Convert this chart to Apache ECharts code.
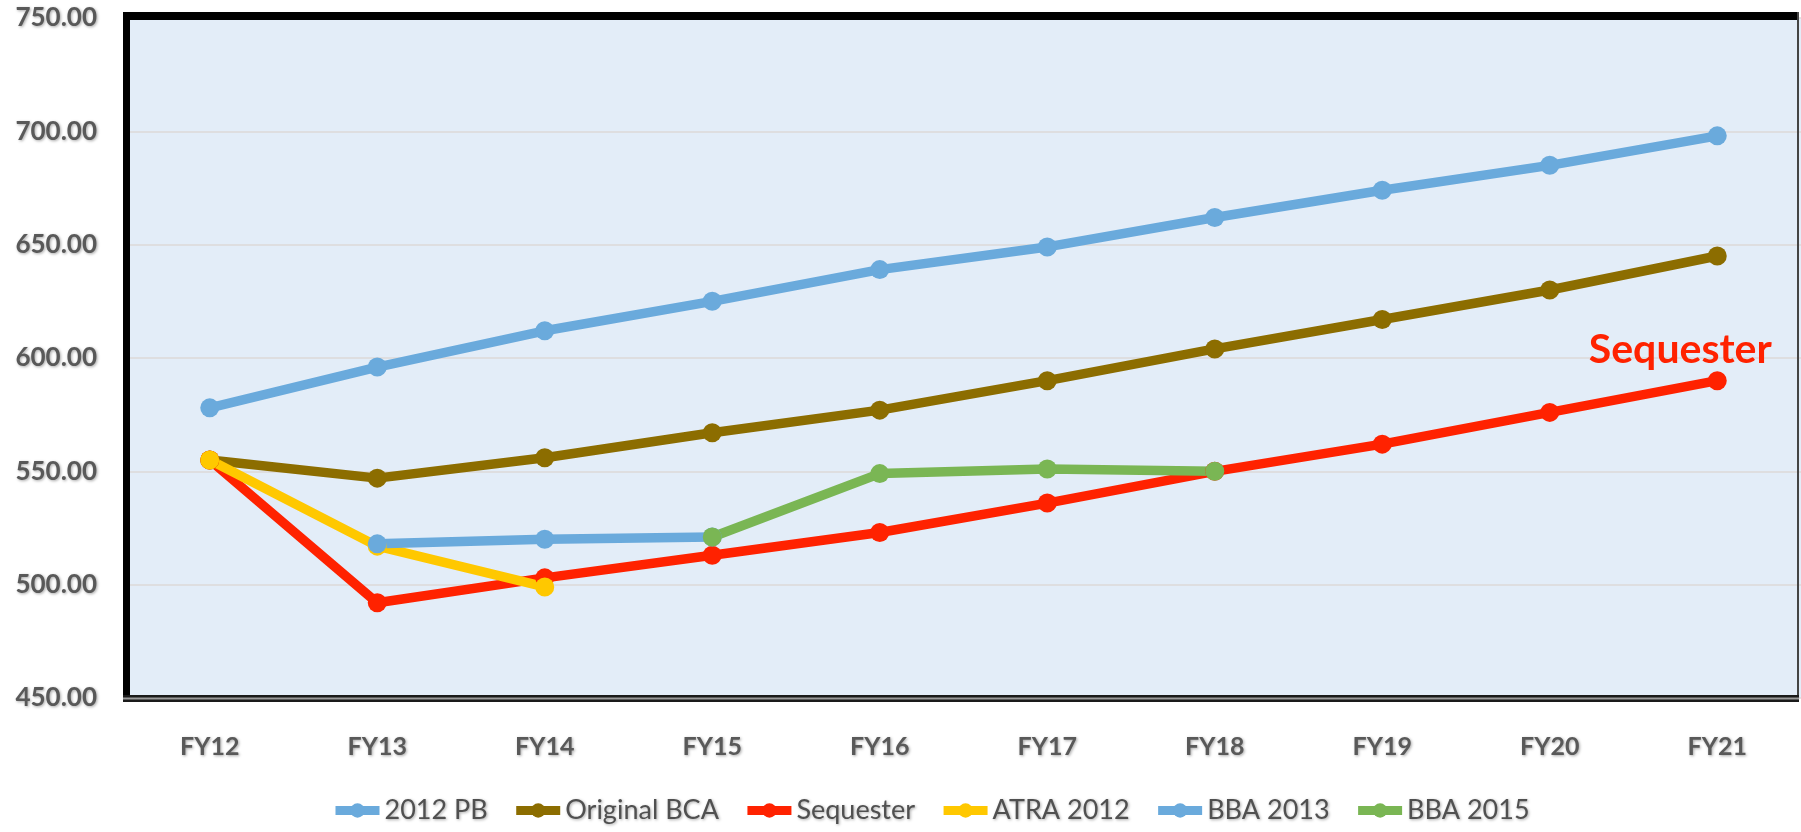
<!DOCTYPE html>
<html>
<head>
<meta charset="utf-8">
<script src="https://cdn.jsdelivr.net/npm/echarts@6/dist/echarts.min.js"></script>
<style>
  html, body { margin: 0; padding: 0; background: #fff; }
  #chart { width: 1801px; height: 832px; }
</style>
</head>
<body>
<div id="chart"></div>
<script>
// categories
var years = ["FY12", "FY13", "FY14", "FY15", "FY16", "FY17", "FY18", "FY19", "FY20", "FY21"];
// series values
var pb2012 = [578, 596, 612, 625, 639, 649, 662, 674, 685, 698];
var originalBca = [555, 547, 556, 567, 577, 590, 604, 617, 630, 645];
var sequester = [555, 492, 503, 513, 523, 536, 550, 562, 576, 590];
var atra2012 = [555, 517, 499, null, null, null, null, null, null, null];
var bba2013 = [null, 518, 520, 521, null, null, null, null, null, null];
var bba2015 = [null, null, null, 521, 549, 551, 550, null, null, null];
// y axis ticks
var yMin = 450, yMax = 750, yStep = 50;

var font = "Lato";
var gray = "#595959";

function lineSeries(name, data, color) {
  return {
    name: name,
    type: "line",
    data: data,
    symbol: "circle",
    symbolSize: 19,
    connectNulls: false,
    lineStyle: { color: color, width: 9.5 },
    itemStyle: { color: color },
    emphasis: { disabled: true }
  };
}

// last sequester point carries the red label
var seqData = sequester.map(function (v, i) {
  if (i < sequester.length - 1) return v;
  return {
    value: v,
    label: {
      show: true,
      formatter: "Sequester",
      position: "top",
      distance: 1,
      offset: [-37, 0],
      color: "#ff2200",
      fontFamily: font,
      fontWeight: "bold",
      fontSize: 41
    }
  };
});

var series = [
  lineSeries("2012 PB", pb2012, "#6aaadc"),
  lineSeries("Original BCA", originalBca, "#8c6d00"),
  lineSeries("Sequester", seqData, "#ff2200"),
  lineSeries("ATRA 2012", atra2012, "#ffc800"),
  lineSeries("BBA 2013", bba2013, "#6aaadc"),
  lineSeries("BBA 2015", bba2015, "#7ab654")
];

var shadow = {
  textShadowColor: "rgba(0,0,0,0.35)",
  textShadowBlur: 3,
  textShadowOffsetX: 1,
  textShadowOffsetY: 1
};

var chart = echarts.init(document.getElementById("chart"));
chart.setOption({
  animation: false,
  grid: {
    left: 126,
    top: 18,
    width: 1678,
    height: 680,
    show: true,
    backgroundColor: "#e3edf8",
    borderWidth: 0
  },
  legend: {
    data: series.map(function (s) { return s.name; }),
    top: 792,
    left: 326,
    itemWidth: 44,
    itemHeight: 18,
    itemGap: 24,
    lineStyle: { width: 9 },
    textStyle: Object.assign({ color: "#505050", fontFamily: font, fontSize: 27 }, shadow)
  },
  xAxis: {
    type: "category",
    data: years,
    boundaryGap: true,
    axisLine: { show: false },
    axisTick: { show: false },
    axisLabel: Object.assign({
      margin: 36,
      color: gray,
      fontFamily: font,
      fontWeight: "bold",
      fontSize: 25
    }, shadow)
  },
  yAxis: {
    type: "value",
    min: yMin,
    max: yMax,
    interval: yStep,
    axisLine: { show: false },
    axisTick: { show: false },
    splitLine: { lineStyle: { color: "#dcd9d9", width: 1.5 } },
    axisLabel: Object.assign({
      margin: 29,
      color: gray,
      fontFamily: font,
      fontWeight: "bold",
      fontSize: 26,
      formatter: function (v) { return v.toFixed(2); }
    }, shadow)
  },
  // plot frame: heavy top/left, thin right, double bottom
  graphic: [
    { type: "rect", z: 100, shape: { x: 123, y: 12, width: 1676, height: 8 }, style: { fill: "#000" } },
    { type: "rect", z: 100, shape: { x: 123, y: 12, width: 7, height: 690 }, style: { fill: "#000" } },
    { type: "rect", z: 100, shape: { x: 1797, y: 12, width: 2, height: 690 }, style: { fill: "#444" } },
    { type: "rect", z: 100, shape: { x: 123, y: 695, width: 1676, height: 7 }, style: { fill: "#1a1a1a" } },
    { type: "rect", z: 101, shape: { x: 123, y: 697.5, width: 1676, height: 2 }, style: { fill: "#9a9a9a" } }
  ],
  series: series
});
</script>
</body>
</html>
